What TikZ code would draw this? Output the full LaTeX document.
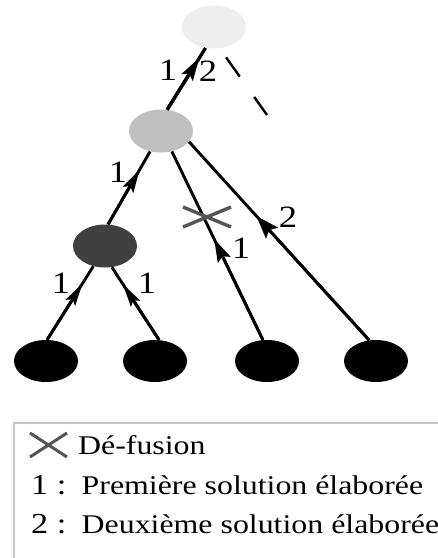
\documentclass[tikz,border=0pt]{standalone}
\usepackage{fontspec}
\setmainfont{Liberation Serif}[FakeStretch=1.18]
\usetikzlibrary{shapes.geometric,arrows.meta,calc}
\definecolor{topgray}{HTML}{EEEEEE}
\definecolor{midgray}{HTML}{BFBFBF}
\definecolor{darkgray}{HTML}{404040}
\definecolor{crossgray}{HTML}{555555}
\definecolor{boxgray}{HTML}{C8C8C8}
\tikzset{
  sol/.style={ellipse, minimum width=64pt, minimum height=43pt, inner sep=0pt, draw=none},
  edge/.style={line width=2.9pt, black},
  arrtip/.style={line width=2.9pt, black, -{Stealth[length=23pt,width=#1,inset=4pt]}},
  arrtip/.default=13pt,
  lab/.style={font=\fontsize{31}{31}\selectfont, inner sep=0pt},
  legtext/.style={font=\fontsize{27}{30}\selectfont, inner sep=0pt, anchor=base west},
  legnum/.style={font=\fontsize{29}{30}\selectfont, inner sep=0pt, anchor=base west},
  cross/.style={draw=crossgray, line width=3.4pt},
  dashline/.style={line width=2.4pt, dash pattern=on 23.5pt off 25pt, dash phase=37.5pt},
}
\begin{document}
\begin{tikzpicture}[x=1pt,y=-1pt]
\useasboundingbox[fill=white] (0,0) rectangle (438,558);
% nodes
\node[sol, fill=topgray] (top) at (214,27) {};
\node[sol, fill=midgray] (mid) at (161,131) {};
\node[sol, fill=darkgray] (dark) at (105,246) {};
\node[sol, fill=black, minimum height=42pt] (b1) at (46,361) {};
\node[sol, fill=black, minimum height=42pt] (b2) at (155,361) {};
\node[sol, fill=black, minimum height=42pt] (b3) at (267,361) {};
\node[sol, fill=black, minimum height=42pt] (b4) at (376,361) {};
% edges
\draw[edge, line width=3.3pt] (mid.74) -- (top.248);
\draw[arrtip=13pt, line width=3.3pt] (mid.74) -- ($(mid.74)!0.84!(top.248)$);
\draw[edge] (dark.82) -- (mid.242);
\draw[arrtip=12pt] (dark.82) -- ($(dark.82)!0.75!(mid.242)$);
\draw[edge] (b3.101) -- (mid.-62);
\draw[arrtip=14pt] (b3.101) -- ($(b3.101)!0.535!(mid.-62)$);
\draw[edge] (b4.108) -- (mid.-21);
\draw[arrtip=16pt] (b4.108) -- ($(b4.108)!0.626!(mid.-21)$);
\draw[edge] (b1.87) -- (dark.-120);
\draw[arrtip=11pt] (b1.87) -- ($(b1.87)!0.77!(dark.-120)$);
\draw[edge] (b2.79) -- (dark.-72);
\draw[arrtip=11pt] (b2.79) -- ($(b2.79)!0.765!(dark.-72)$);
% dashed connector
\coordinate (dashend) at (267,115);
\draw[dashline] (top.-75) -- (dashend);
% de-fusion cross
\coordinate (xm) at (207,217);
\draw[cross] (xm) ++(-24,-10) -- ++(48,20);
\draw[cross] (xm) ++(-24,10) -- ++(48,-20);
% edge labels
\node[lab] (t1) at (168,70) {1};
\node[lab] (t2) at (208,71) {2};
\node[lab] (md1) at (118,172) {1};
\node[lab] (x1) at (241,248) {1};
\node[lab] (r2) at (288,217) {2};
\node[lab] (bl1) at (61,283) {1};
\node[lab] (br1) at (147,283) {1};
% legend
\begin{scope}
\clip (0,0) rectangle (438,558);
\draw[boxgray, line width=2pt] (14,423) rectangle (470,600);
\end{scope}
\coordinate (lxc) at (48.5,445);
\draw[cross, line width=3pt] (lxc) ++(-18.5,-12) -- ++(37,24);
\draw[cross, line width=3pt] (lxc) ++(-18.5,12) -- ++(37,-24);
\node[legtext] (ldef) at (78,454) {Dé-fusion};
\node[legnum] (l1n) at (31,494) {1 :};
\node[legtext] (l1t) at (81.5,494) {Première solution élaborée};
\node[legnum] (l2n) at (31,533) {2 :};
\node[legtext] (l2t) at (81.5,533) {Deuxième solution élaborée};
\end{tikzpicture}
\end{document}
